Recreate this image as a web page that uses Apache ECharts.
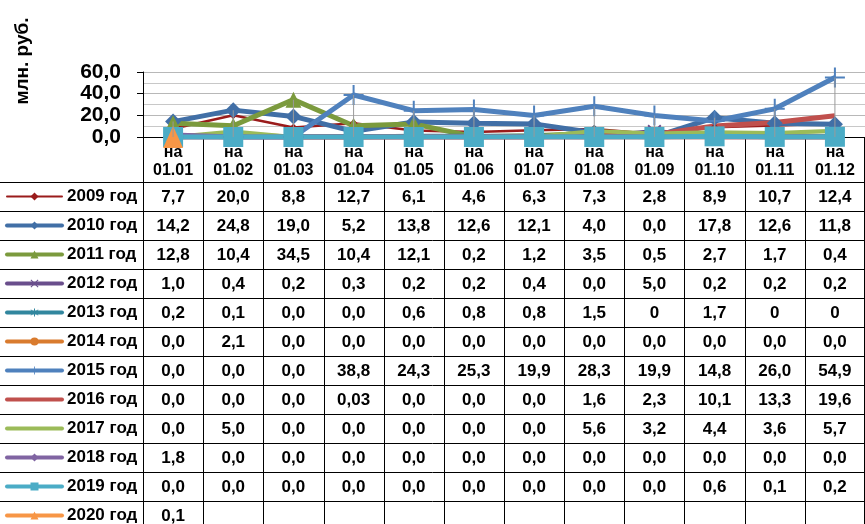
<!DOCTYPE html>
<html>
<head>
<meta charset="utf-8">
<script src="https://cdn.jsdelivr.net/npm/echarts@6/dist/echarts.min.js"></script>
<style>
    html, body { margin: 0; padding: 0; background: #fff; }
    #main { width: 865px; height: 524px; }
</style>
</head>
<body>
<div id="main"></div>
<script>
// даты (категории)
var dates = ['01.01', '01.02', '01.03', '01.04', '01.05', '01.06', '01.07', '01.08', '01.09', '01.10', '01.11', '01.12'];
var yTicks = [0, 20, 40, 60];

// значения по годам, как в таблице
var years = ['2009 год', '2010 год', '2011 год', '2012 год', '2013 год', '2014 год', '2015 год', '2016 год', '2017 год', '2018 год', '2019 год', '2020 год'];
var y2009 = ['7,7', '20,0', '8,8', '12,7', '6,1', '4,6', '6,3', '7,3', '2,8', '8,9', '10,7', '12,4'];
var y2010 = ['14,2', '24,8', '19,0', '5,2', '13,8', '12,6', '12,1', '4,0', '0,0', '17,8', '12,6', '11,8'];
var y2011 = ['12,8', '10,4', '34,5', '10,4', '12,1', '0,2', '1,2', '3,5', '0,5', '2,7', '1,7', '0,4'];
var y2012 = ['1,0', '0,4', '0,2', '0,3', '0,2', '0,2', '0,4', '0,0', '5,0', '0,2', '0,2', '0,2'];
var y2013 = ['0,2', '0,1', '0,0', '0,0', '0,6', '0,8', '0,8', '1,5', '0', '1,7', '0', '0'];
var y2014 = ['0,0', '2,1', '0,0', '0,0', '0,0', '0,0', '0,0', '0,0', '0,0', '0,0', '0,0', '0,0'];
var y2015 = ['0,0', '0,0', '0,0', '38,8', '24,3', '25,3', '19,9', '28,3', '19,9', '14,8', '26,0', '54,9'];
var y2016 = ['0,0', '0,0', '0,0', '0,03', '0,0', '0,0', '0,0', '1,6', '2,3', '10,1', '13,3', '19,6'];
var y2017 = ['0,0', '5,0', '0,0', '0,0', '0,0', '0,0', '0,0', '5,6', '3,2', '4,4', '3,6', '5,7'];
var y2018 = ['1,8', '0,0', '0,0', '0,0', '0,0', '0,0', '0,0', '0,0', '0,0', '0,0', '0,0', '0,0'];
var y2019 = ['0,0', '0,0', '0,0', '0,0', '0,0', '0,0', '0,0', '0,0', '0,0', '0,6', '0,1', '0,2'];
var y2020 = ['0,1'];
var table = [y2009, y2010, y2011, y2012, y2013, y2014, y2015, y2016, y2017, y2018, y2019, y2020];

function num(s) { return parseFloat(s.replace(',', '.')); }

var PLUS = 'path://M-1,-10h2v20h-2z M-10,-1h20v2h-20z';
var CROSS = 'path://M-8,-6.5L-6.5,-8L8,6.5L6.5,8z M6.5,-8L8,-6.5L-6.5,8L-8,6.5z';
var STAR = 'path://M-1,-9h2v18h-2z M-8,-5.5L-7,-7L8,5.5L7,7z M7,-7L8,-5.5L-7,7L-8,5.5z';

var styles = [
    {color: '#9a1b1b', width: 2.5, symbol: 'diamond', size: 8},
    {color: '#416fa6', width: 5, symbol: 'diamond', size: 16},
    {color: '#7b9a3d', width: 5, symbol: 'triangle', size: 16},
    {color: '#6a4e8c', width: 5, symbol: CROSS, size: 14},
    {color: '#31869e', width: 5, symbol: STAR, size: 14},
    {color: '#d97b2e', width: 5, symbol: 'circle', size: 14},
    {color: '#4f81bd', width: 5, symbol: PLUS, size: 20},
    {color: '#c0504d', width: 5, symbol: 'none', size: 0},
    {color: '#9bbb59', width: 4, symbol: 'none', size: 0},
    {color: '#8064a2', width: 5, symbol: 'diamond', size: 12},
    {color: '#4bacc6', width: 5, symbol: 'rect', size: 20},
    {color: '#f79646', width: 5, symbol: 'triangle', size: [20, 22]}
];

var series = [];
for (var i = 0; i < years.length; i++) {
    var st = styles[i];
    series.push({
        name: years[i],
        type: 'line',
        data: table[i].map(num),
        symbol: st.symbol,
        symbolSize: st.size,
        showAllSymbol: true,
        lineStyle: {color: st.color, width: st.width},
        itemStyle: {color: st.color},
        emphasis: {disabled: true},
        animation: false
    });
}

// вертикальные линии (от максимума до нуля)
var highs = dates.map(function (d, j) {
    var m = 0;
    for (var k = 0; k < table.length; k++) {
        if (table[k][j] !== undefined) m = Math.max(m, num(table[k][j]));
    }
    return m;
});
series.push({
    name: 'hl',
    type: 'bar',
    data: highs,
    barWidth: 1,
    z: 5,
    itemStyle: {color: '#9a9a9a'},
    silent: true,
    animation: false
});

// легенда: линия + маленький маркер
var legendData = years.map(function (y, i) {
    var item = {
        name: y,
        lineStyle: {width: i === 0 ? 2 : 4, cap: 'round'}
    };
    if (styles[i].symbol === 'none') item.itemStyle = {opacity: 0};
    return item;
});

var chart = echarts.init(document.getElementById('main'));
var option = {
    backgroundColor: '#fff',
    animation: false,
    grid: {
        left: 143,
        right: 0,
        top: 72,
        bottom: 387
    },
    legend: {
        data: legendData,
        orient: 'vertical',
        left: 5,
        top: 188,
        height: 400,
        padding: 0,
        itemWidth: 55,
        itemHeight: 10,
        itemGap: 12,
        selectedMode: false,
        textStyle: {
            fontFamily: 'Liberation Sans, Arial',
            fontWeight: 'bold',
            fontSize: 17,
            lineHeight: 17,
            color: '#000'
        }
    },
    xAxis: {
        type: 'category',
        data: dates,
        axisLine: {lineStyle: {color: '#000', width: 1}},
        axisTick: {show: false},
        axisLabel: {
            interval: 0,
            margin: 7,
            fontFamily: 'Liberation Sans, Arial',
            fontWeight: 'bold',
            fontSize: 16,
            lineHeight: 18,
            color: '#000',
            formatter: function (v) { return 'на\n' + v; }
        }
    },
    yAxis: {
        type: 'value',
        min: yTicks[0],
        max: yTicks[yTicks.length - 1],
        interval: 20,
        axisLine: {show: true, lineStyle: {color: '#000'}},
        axisTick: {show: true, length: 6, lineStyle: {color: '#000'}},
        splitLine: {lineStyle: {color: '#b8b8b8'}},
        minorTick: {show: false, splitNumber: 2},
        minorSplitLine: {show: true, lineStyle: {color: '#c8c8c8'}},
        axisLabel: {
            margin: 22,
            fontFamily: 'Liberation Sans, Arial',
            fontWeight: 'bold',
            fontSize: 21,
            color: '#000',
            formatter: function (v) { return v.toFixed(1).replace('.', ','); }
        }
    },
    series: series
};
chart.setOption(option);

// таблица данных под графиком
var x0 = chart.convertToPixel({xAxisIndex: 0}, 0);
var x1 = chart.convertToPixel({xAxisIndex: 0}, 1);
var band = x1 - x0;
var axisY = chart.convertToPixel({yAxisIndex: 0}, 0);
var rowTop = 182;
var rowH = 29;
var W = 865, H = 524;
var els = [];

function crisp(v) { return Math.round(v) + 0.5; }

// горизонтальные линии
for (var r = 0; r <= years.length; r++) {
    var yy = crisp(rowTop + r * rowH);
    if (yy > H) break;
    els.push({type: 'line', shape: {x1: 0, y1: yy, x2: W, y2: yy}, style: {stroke: '#000', lineWidth: 1}, silent: true});
}
// вертикальные линии
for (var c = 0; c <= dates.length; c++) {
    var xx = crisp(x0 - band / 2 + c * band);
    if (xx > W) xx = W - 0.5;
    els.push({type: 'line', shape: {x1: xx, y1: axisY, x2: xx, y2: H}, style: {stroke: '#000', lineWidth: 1}, silent: true});
}
// значения
for (var r2 = 0; r2 < table.length; r2++) {
    for (var c2 = 0; c2 < table[r2].length; c2++) {
        els.push({
            type: 'text',
            x: chart.convertToPixel({xAxisIndex: 0}, c2),
            y: rowTop + r2 * rowH + rowH / 2 + 1,
            silent: true,
            style: {
                text: table[r2][c2],
                fontFamily: 'Liberation Sans, Arial',
                fontWeight: 'bold',
                fontSize: 17,
                fill: '#000',
                align: 'center',
                verticalAlign: 'middle'
            }
        });
    }
}
// подпись оси
els.push({
    type: 'text',
    x: 23,
    y: 61,
    rotation: Math.PI / 2,
    silent: true,
    style: {
        text: 'млн. руб.',
        fontFamily: 'Liberation Sans, Arial',
        fontWeight: 'bold',
        fontSize: 19,
        fill: '#000',
        align: 'center',
        verticalAlign: 'middle'
    }
});

chart.setOption({graphic: els});
</script>
</body>
</html>
